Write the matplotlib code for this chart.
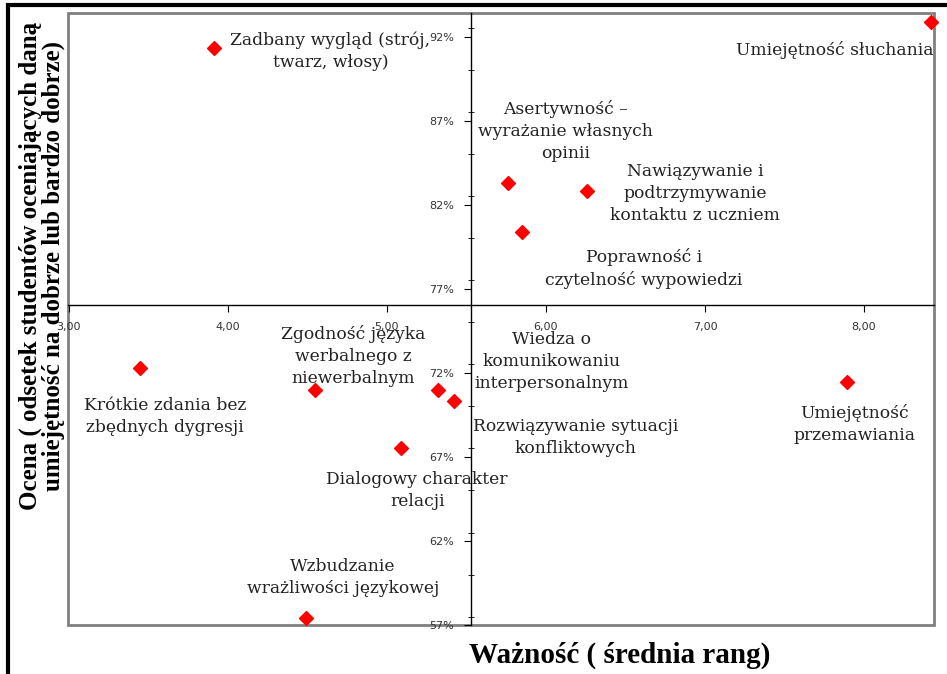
import numpy as np
import matplotlib.pyplot as plt
from matplotlib.patches import Rectangle
from matplotlib.ticker import FuncFormatter, MultipleLocator

# Waznosc (srednia rang) vs ocena (odsetek)
labels = ['Zadbany wygląd (strój,\ntwarz, włosy)',
          'Umiejętność słuchania',
          'Asertywność –\nwyrażanie własnych\nopinii',
          'Nawiązywanie i\npodtrzymywanie\nkontaktu z uczniem',
          'Poprawność i\nczytelność wypowiedzi',
          'Krótkie zdania bez\nzbędnych dygresji',
          'Zgodność języka\nwerbalnego z\nniewerbalnym',
          'Wiedza o\nkomunikowaniu\ninterpersonalnym',
          'Rozwiązywanie sytuacji\nkonfliktowych',
          'Dialogowy charakter\nrelacji',
          'Wzbudzanie\nwrażliwości językowej',
          'Umiejętność\nprzemawiania']
waznosc = [3.91, 8.42, 5.76, 6.26, 5.85, 3.45, 4.55, 5.32, 5.42, 5.09, 4.49, 7.89]
ocena = [0.913, 0.9285, 0.833, 0.828, 0.804, 0.723, 0.710, 0.710, 0.703, 0.675, 0.574, 0.7145]

# label offsets from each point, in pixels
label_dx = [117, -96, 58, 108, 122, 25, 38, 114, 122, 16, 37, 8]
label_dy = [-3, -28, 52, -2, -37, -49, 34, 28, -36, -42, 41, -42]

x_cross = 5.528
y_cross = 0.7602

fig = plt.figure(figsize=(9.47, 6.74), dpi=100)
ax = fig.add_axes([68/947, 49/674, 866/947, 612/674])

ax.scatter(waznosc, ocena, marker='D', s=50, color='#ff0000', zorder=5, clip_on=False)

for lab, x, y, dx, dy in zip(labels, waznosc, ocena, label_dx, label_dy):
    ax.annotate(lab, (x, y), xytext=(dx, dy), textcoords='offset pixels',
                ha='center', va='center', multialignment='center',
                fontsize=12.3, family='DejaVu Serif', color='#222222', linespacing=1.38)

ax.set_xlim(2.995, 8.44)
ax.set_ylim(0.57, 0.934)

for s in ['top', 'right']:
    ax.spines[s].set_visible(False)
ax.spines['left'].set_position(('data', x_cross))
ax.spines['bottom'].set_position(('data', y_cross))
ax.spines['left'].set_linewidth(1)
ax.spines['bottom'].set_linewidth(1)

ax.set_xticks([3, 4, 5, 6, 7, 8])
ax.xaxis.set_major_formatter(FuncFormatter(lambda v, p: ('%.2f' % v).replace('.', ',')))
ax.set_yticks(np.arange(0.57, 0.93, 0.05))
ax.yaxis.set_minor_locator(MultipleLocator(0.025))
ax.yaxis.set_major_formatter(FuncFormatter(lambda v, p: '%d%%' % round(v * 100)))
ax.tick_params(axis='both', which='major', direction='out', length=5, labelsize=8,
               labelcolor='#333333', pad=7)
ax.tick_params(axis='y', which='minor', direction='inout', length=4)

# gray plot-area frame
ax.add_patch(Rectangle((0, 0), 1, 1, transform=ax.transAxes, fill=False,
                       edgecolor='#808080', lw=2, clip_on=False, zorder=1))

# outer black border
fig.patches.append(Rectangle((8/947, -0.1), 1.2, 1.1 - 5/674, transform=fig.transFigure,
                             fill=False, edgecolor='black', lw=3))

fig.text(42/947, 1 - 266/674,
         'Ocena ( odsetek studentów oceniających daną\numiejętność na dobrze lub bardzo dobrze)',
         rotation=90, ha='center', va='center', multialignment='center',
         fontsize=18, fontweight='bold', family='Liberation Serif', linespacing=1.0)
fig.text(620/947, 1 - 655/674, 'Ważność ( średnia rang)', ha='center', va='center',
         fontsize=21, fontweight='bold', family='Liberation Serif')

fig.savefig('out.png', dpi=100)
